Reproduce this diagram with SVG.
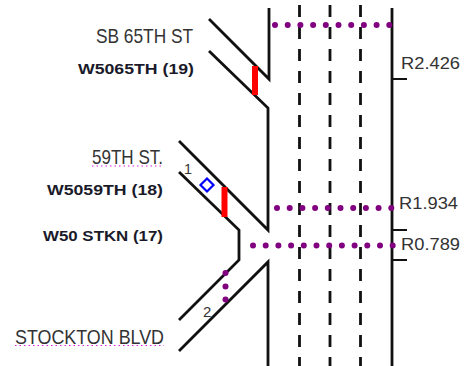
<svg xmlns="http://www.w3.org/2000/svg" width="470" height="366" viewBox="0 0 470 366">
<style>
.road{fill:none;stroke:#111;stroke-width:2.8}
.lane{fill:none;stroke:#111;stroke-width:2.8;stroke-dasharray:12 10}
.tick{fill:none;stroke:#111;stroke-width:2}
.dots{fill:none;stroke:#800080;stroke-width:6;stroke-linecap:round;stroke-dasharray:0 12.7}
.red{fill:none;stroke:#ff0000;stroke-width:6}
.under{fill:none;stroke:#e020e0;stroke-width:1.2;stroke-dasharray:1.5 3}
text{font-family:"Liberation Sans",Arial,sans-serif;fill:#333}
.name{font-size:21px;text-anchor:end}
.id{font-size:14.500px;font-weight:bold;fill:#1a1a2a;text-anchor:end}
.r{font-size:16px}
.num{font-size:15px}
</style>
<rect width="470" height="366" fill="#fff"/>
<g id="connectors">
<path class="road" d="M269 8V79L209 19"/>
<path class="road" d="M209 51L268 108V230L179 141"/>
<path class="road" d="M179 172L239 230V260L179 320"/>
<path class="road" d="M179 351L268 262V366"/>
<path class="road" d="M392 8V366"/>
<path class="lane" d="M299.500 5V366"/>
<path class="lane" d="M330 5V366"/>
<path class="lane" d="M360.500 5V366"/>
<path class="tick" d="M392 79H407M392 230H407M392 260H407"/>
<path class="dots" d="M275 25H391"/>
<path class="dots" d="M277 208H393"/>
<path class="dots" d="M253 245.500H394"/>
<circle cx="225.500" cy="273" r="3" fill="#800080"/>
<circle cx="225.500" cy="286.500" r="3" fill="#800080"/>
<circle cx="225.500" cy="299.500" r="3" fill="#800080"/>
<path class="red" d="M255 66V95"/>
<path class="red" d="M224.500 187V217"/>
</g>
<g id="node-sb65"><text class="name" x="193" y="43" textLength="97" lengthAdjust="spacingAndGlyphs">SB 65TH ST</text></g>
<g id="node-w5065"><text class="id" x="194" y="74" textLength="116" lengthAdjust="spacingAndGlyphs">W5065TH (19)</text></g>
<g id="node-59th"><text class="name" x="163" y="164" textLength="71" lengthAdjust="spacingAndGlyphs">59TH ST.</text><path class="under" d="M92 166H164"/></g>
<g id="node-w5059"><text class="id" x="163" y="195" textLength="116" lengthAdjust="spacingAndGlyphs">W5059TH (18)</text></g>
<g id="node-w50stkn"><text class="id" x="163" y="241" textLength="120" lengthAdjust="spacingAndGlyphs">W50 STKN (17)</text></g>
<g id="node-stockton"><text class="name" x="164" y="344" textLength="149" lengthAdjust="spacingAndGlyphs">STOCKTON BLVD</text><path class="under" d="M15 345.500H164"/></g>
<g id="node-lane1"><text class="num" x="184" y="174" textLength="8" lengthAdjust="spacingAndGlyphs">1</text></g>
<g id="node-lane2"><text class="num" x="203" y="317">2</text></g>
<g id="node-diamond"><path d="M207 178.500L213.500 185L207 191.500L200.500 185Z" fill="none" stroke="#0000ff" stroke-width="2.200"/></g>
<g id="node-r2426"><text class="r" x="401" y="69" textLength="59" lengthAdjust="spacingAndGlyphs">R2.426</text></g>
<g id="node-r1934"><text class="r" x="399" y="209" textLength="59" lengthAdjust="spacingAndGlyphs">R1.934</text></g>
<g id="node-r0789"><text class="r" x="401" y="250" textLength="59" lengthAdjust="spacingAndGlyphs">R0.789</text></g>
</svg>
